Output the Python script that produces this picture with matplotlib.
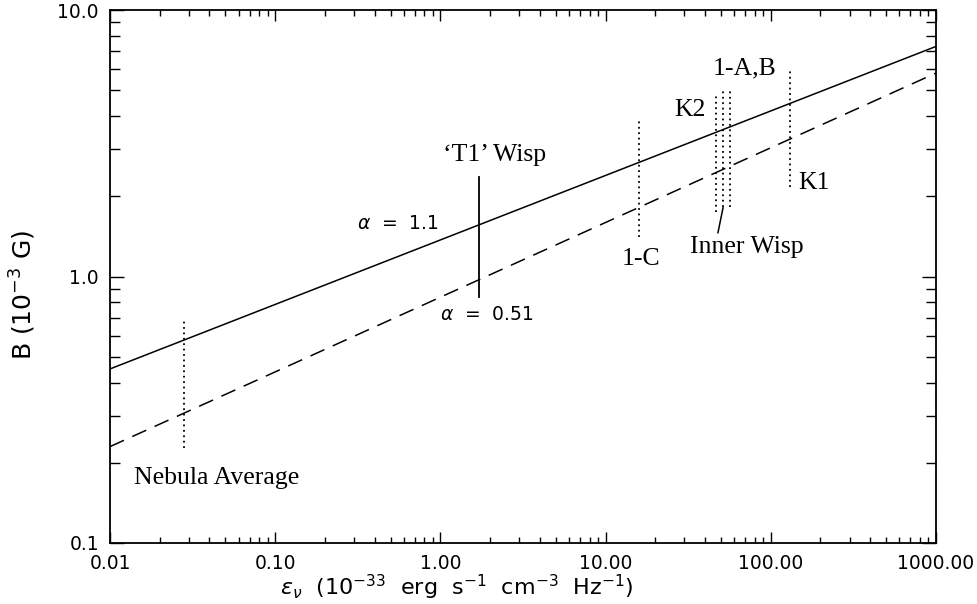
import matplotlib
matplotlib.use("Agg")
import matplotlib.pyplot as plt
from matplotlib.ticker import FixedLocator, FixedFormatter, LogLocator, NullFormatter

# ---- data ----
x_ends = [0.01, 1000.0]
solid_B = [0.45, 7.3]      # alpha = 1.1
dashed_B = [0.23, 5.8]     # alpha = 0.51

feat_x = [0.028, 15.9, 46.6, 51.4, 56.6, 130.0]
feat_lo = [0.227, 1.41, 1.75, 1.82, 1.82, 2.17]
feat_hi = [0.70, 3.9, 4.9, 5.0, 5.06, 6.0]

t1_x = 1.71
t1_lo, t1_hi = 0.84, 2.36

xticks = [0.01, 0.1, 1, 10, 100, 1000]
xtick_labels = ["0.01", "0.10", "1.00", "10.00", "100.00", "1000.00"]
yticks = [0.1, 1.0, 10.0]
ytick_labels = ["0.1", "1.0", "10.0"]

serif = ["Liberation Serif", "DejaVu Serif"]

fig = plt.figure(figsize=(9.78, 6.04), dpi=100)
ax = fig.add_axes([0.1125, 0.101, 0.8445, 0.8824])
ax.set_xscale("log")
ax.set_yscale("log")
ax.set_xlim(0.01, 1000)
ax.set_ylim(0.1, 10)

ax.plot(x_ends, solid_B, color="black", lw=1.1, solid_capstyle="butt")
ax.plot(x_ends, dashed_B, color="black", lw=1.1, dashes=(10, 6))

for x, lo, hi in zip(feat_x, feat_lo, feat_hi):
    ax.plot([x, x], [lo, hi], color="black", lw=1.3, linestyle=(0, (1, 2)))
ax.plot([t1_x, t1_x], [t1_lo, t1_hi], color="black", lw=1.3)

# pointer for Inner Wisp
ax.plot([51.4, 47.9], [1.81, 1.46], color="black", lw=1.1)

fs = 18.5
ax.text(1.04, 2.86, "\u2018T1\u2019 Wisp", family=serif, fontsize=fs, ha="left", va="center")
ax.text(0.313, 1.585, r"$\alpha$  =  1.1", fontsize=13.5, ha="left", va="center")
ax.text(0.995, 0.723, r"$\alpha$  =  0.51", fontsize=13.5, ha="left", va="center")
ax.text(16.4, 1.16, "1-C", family=serif, fontsize=fs, ha="center", va="center")
ax.text(44.7, 6.05, "1-A,B", family=serif, fontsize=fs, ha="left", va="center")
ax.text(40.5, 4.22, "K2", family=serif, fontsize=fs, ha="right", va="center")
ax.text(146, 2.24, "K1", family=serif, fontsize=fs, ha="left", va="center")
ax.text(71.8, 1.29, "Inner Wisp", family=serif, fontsize=fs, ha="center", va="center")
ax.text(0.0445, 0.175, "Nebula Average", family=serif, fontsize=fs, ha="center", va="center")

ax.xaxis.set_major_locator(FixedLocator(xticks))
ax.xaxis.set_major_formatter(FixedFormatter(xtick_labels))
ax.xaxis.set_minor_locator(LogLocator(base=10, subs=range(2, 10)))
ax.xaxis.set_minor_formatter(NullFormatter())
ax.yaxis.set_major_locator(FixedLocator(yticks))
ax.yaxis.set_major_formatter(FixedFormatter(ytick_labels))
ax.yaxis.set_minor_locator(LogLocator(base=10, subs=range(2, 10)))
ax.yaxis.set_minor_formatter(NullFormatter())

ax.tick_params(axis="x", which="major", direction="in", length=8, width=1, top=True, pad=8, labelsize=13.5)
ax.tick_params(axis="x", which="minor", direction="in", length=4, width=1, top=True)
ax.tick_params(axis="y", which="major", direction="in", length=10, width=1, right=True, pad=8, labelsize=13.5)
ax.tick_params(axis="y", which="minor", direction="in", length=7, width=1, right=True)
for s in ax.spines.values():
    s.set_linewidth(1.3)

ax.set_xlabel(r"$\epsilon_\nu$  (10$^{-33}$  erg  s$^{-1}$  cm$^{-3}$  Hz$^{-1}$)", fontsize=16)
ax.set_ylabel(r"B (10$^{-3}$ G)", fontsize=18)
ax.xaxis.set_label_coords(0.42, -0.056)
ax.yaxis.set_label_coords(-0.087, 0.465)

fig.savefig("out.png", dpi=100)
